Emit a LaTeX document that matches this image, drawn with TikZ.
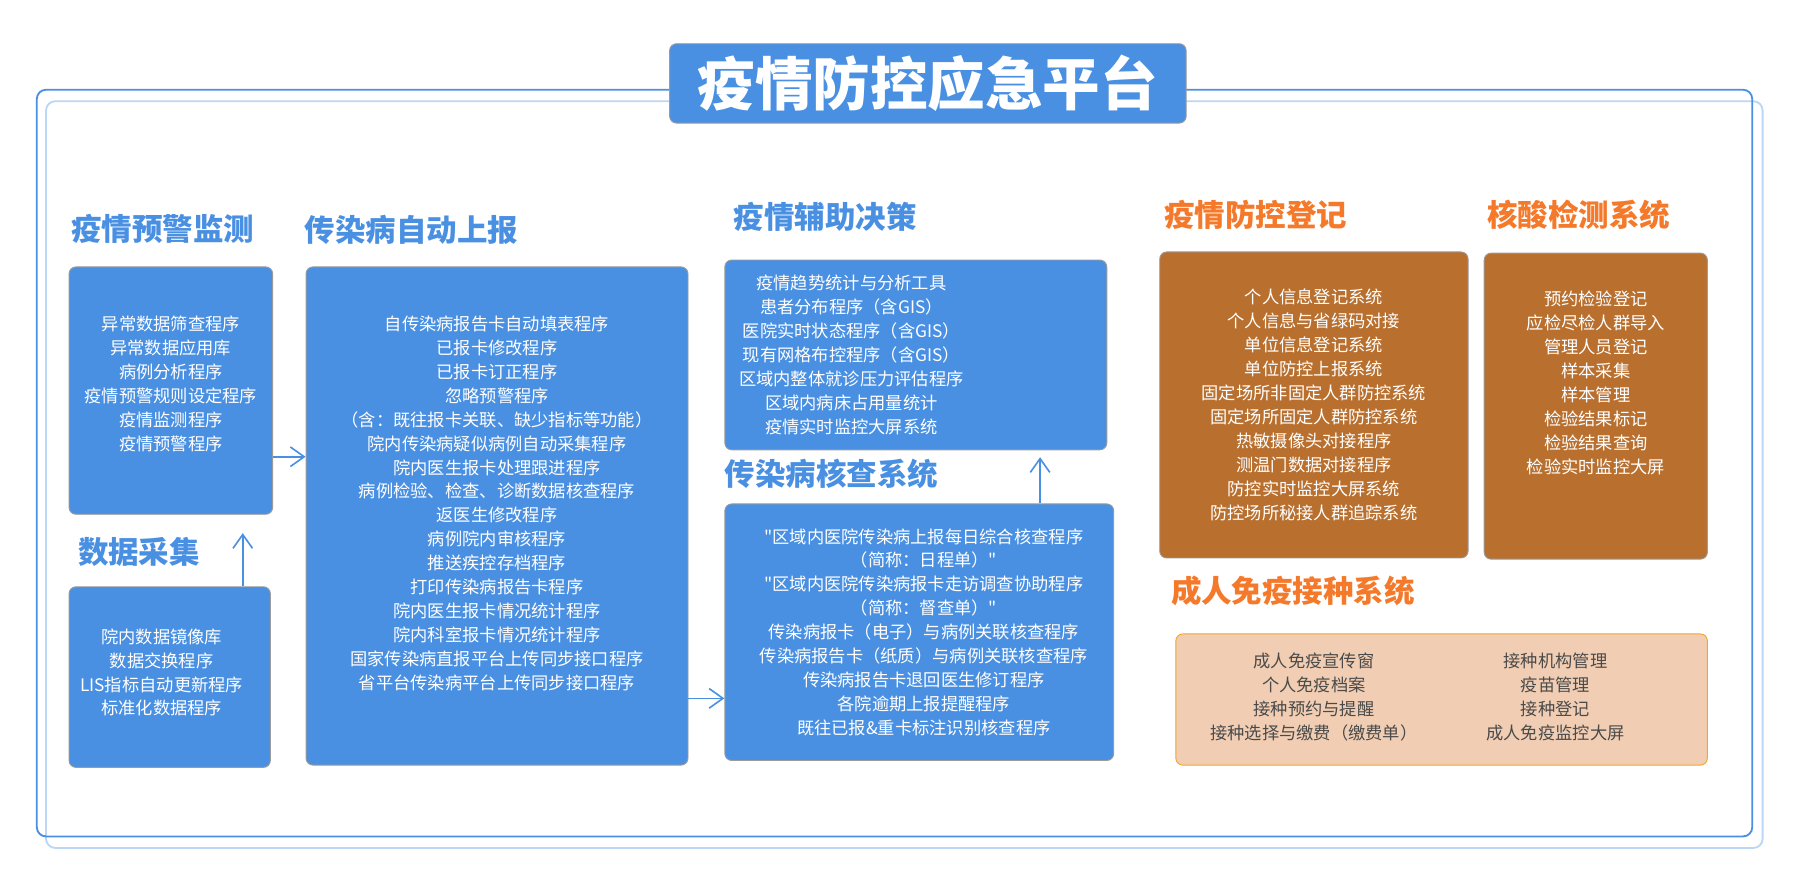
\documentclass[tikz,border=0pt]{standalone}
\usepackage{fontspec}
\setmainfont{Noto Sans CJK SC}[Ligatures=TeXOff]
\usetikzlibrary{arrows.meta,positioning}
\definecolor{platblue}{HTML}{4A90E2}
\definecolor{framepale}{HTML}{BCD6F5}
\definecolor{boxgray}{HTML}{9B9B9B}
\definecolor{headorange}{HTML}{F5792A}
\definecolor{rustbox}{HTML}{B9702F}
\definecolor{peachfill}{HTML}{F1CEB3}
\definecolor{peachline}{HTML}{F5A623}
\definecolor{inkgray}{HTML}{4A4A4A}
\tikzstyle{module}=[
	rectangle,
	rounded corners=6pt,
	draw=boxgray,
	line width=0.8pt,
	fill=platblue
]
\tikzstyle{rustmodule}=[module, fill=rustbox]
\tikzstyle{peachmodule}=[module, draw=peachline, fill=peachfill]
\tikzstyle{items}=[
	inner sep=0pt,
	align=center,
	text=white,
	font=\fontsize{15}{20.8}\selectfont
]
\tikzstyle{darkitems}=[items, text=inkgray]
\tikzstyle{heading}=[
	inner sep=0pt,
	text=platblue,
	font=\fontsize{26.5}{30}\selectfont\bfseries
]
\tikzstyle{orangeheading}=[heading, text=headorange]
\tikzstyle{flow}=[
	draw=platblue,
	line width=1.4pt,
	-{Straight Barb[length=12pt,width=17pt]}
]
\begin{document}
\begin{tikzpicture}[x=1pt,y=-1pt]
\useasboundingbox (0,0) rectangle (1568,775);
\draw[framepale, line width=1.6pt, rounded corners=8pt] (40,88) rectangle (1532,737);
\draw[platblue, line width=1.6pt, rounded corners=8pt] (32,78) rectangle (1523,727);
\node [module, minimum width=449pt, minimum height=69pt, text=white,
	font=\fontsize{50}{56}\selectfont\bfseries] (title) at (806.5,72.5) {疫情防控应急平台};

% blue modules
\node [module, minimum width=177pt, minimum height=215pt] (warn) at (148.5,339.5) {};
\node [module, minimum width=175pt, minimum height=157pt] (collect) at (147.5,588.5) {};
\node [module, minimum width=332pt, minimum height=433pt] (auto) at (432,448.5) {};
\node [module, minimum width=332pt, minimum height=165pt] (decision) at (796,308.5) {};
\node [module, minimum width=338pt, minimum height=223pt] (check) at (799,549.5) {};
% orange modules
\node [rustmodule, minimum width=268pt, minimum height=266pt] (register) at (1142,352) {};
\node [rustmodule, minimum width=194pt, minimum height=266pt] (nucleic) at (1387,353) {};
\node [peachmodule, minimum width=462pt, minimum height=114pt] (vaccine) at (1253,608) {};

\node [heading, above right=20pt and 2pt of warn.north west] (warnhead) {疫情预警监测};
\node [heading, above right=17pt and 8pt of collect.north west] (collecthead) {数据采集};
\node [heading, above right=19pt and -1pt of auto.north west] (autohead) {传染病自动上报};
\node [heading, above right=24pt and 8pt of decision.north west] (decisionhead) {疫情辅助决策};
\node [heading, above right=13pt and 0pt of check.north west] (checkhead) {传染病核查系统};
\node [orangeheading, above right=19pt and 4pt of register.north west] (registerhead) {疫情防控登记};
\node [orangeheading, above right=20pt and 3pt of nucleic.north west] (nucleichead) {核酸检测系统};
\node [orangeheading, above right=24pt and -4pt of vaccine.north west] (vaccinehead) {成人免疫接种系统};

\node [items] (warnitems) at ([yshift=6pt]warn.center) {异常数据筛查程序\\异常数据应用库\\病例分析程序\\疫情预警规则设定程序\\疫情监测程序\\疫情预警程序};
\node [items] (collectitems) at ([xshift=-7pt,yshift=4pt]collect.center) {院内数据镜像库\\数据交换程序\\LIS指标自动更新程序\\标准化数据程序};
\node [items] (autoitems) at ([yshift=11pt]auto.center) {自传染病报告卡自动填表程序\\已报卡修改程序\\已报卡订正程序\\忽略预警程序\\（含：既往报卡关联、缺少指标等功能）\\院内传染病疑似病例自动采集程序\\院内医生报卡处理跟进程序\\病例检验、检查、诊断数据核查程序\\返医生修改程序\\病例院内审核程序\\推送疾控存档程序\\打印传染病报告卡程序\\院内医生报卡情况统计程序\\院内科室报卡情况统计程序\\国家传染病直报平台上传同步接口程序\\省平台传染病平台上传同步接口程序};
\node [items] (decisionitems) at ([xshift=-56pt]decision.center) {疫情趋势统计与分析工具\\患者分布程序（含GIS）\\医院实时状态程序（含GIS）\\现有网格布控程序（含GIS）\\区域内整体就诊压力评估程序\\区域内病床占用量统计\\疫情实时监控大屏系统};
\node [items] (checkitems) at ([xshift=4pt]check.center) {"区域内医院传染病上报每日综合核查程序\\（简称：日程单）"\\"区域内医院传染病报卡走访调查协助程序\\（简称：督查单）"\\传染病报卡（电子）与病例关联核查程序\\传染病报告卡（纸质）与病例关联核查程序\\传染病报告卡退回医生修订程序\\各院逾期上报提醒程序\\既往已报\&重卡标注识别核查程序};
\node [items] (registeritems) at (register.center) {个人信息登记系统\\个人信息与省绿码对接\\单位信息登记系统\\单位防控上报系统\\固定场所非固定人群防控系统\\固定场所固定人群防控系统\\热敏摄像头对接程序\\测温门数据对接程序\\防控实时监控大屏系统\\防控场所秘接人群追踪系统};
\node [items] (nucleicitems) at ([yshift=20pt]nucleic.center) {预约检验登记\\应检尽检人群导入\\管理人员登记\\样本采集\\样本管理\\检验结果标记\\检验结果查询\\检验实时监控大屏};
\node [darkitems] (vaccineleft) at ([xshift=-111pt,yshift=2pt]vaccine.center) {成人免疫宣传窗\\个人免疫档案\\接种预约与提醒\\接种选择与缴费（缴费单）};
\node [darkitems] (vaccineright) at ([xshift=99pt,yshift=2pt]vaccine.center) {接种机构管理\\疫苗管理\\接种登记\\成人免疫监控大屏};

\coordinate (warnout) at ([yshift=-57.5pt]warn.east);
\coordinate (autoout) at ([yshift=-57.5pt]check.west);
\coordinate (checkout) at ([xshift=105pt]check.north);
\coordinate (collectout) at ([xshift=63.5pt]collect.north);
\draw [flow] (warnout) -- (warnout -| auto.west);
\draw [flow] (autoout -| auto.east) -- (autoout);
\draw [flow, shorten >=6pt] (checkout) -- (checkout |- decision.south);
\draw [flow, shorten >=16pt] (collectout) -- (collectout |- warn.south);
\end{tikzpicture}
\end{document}
